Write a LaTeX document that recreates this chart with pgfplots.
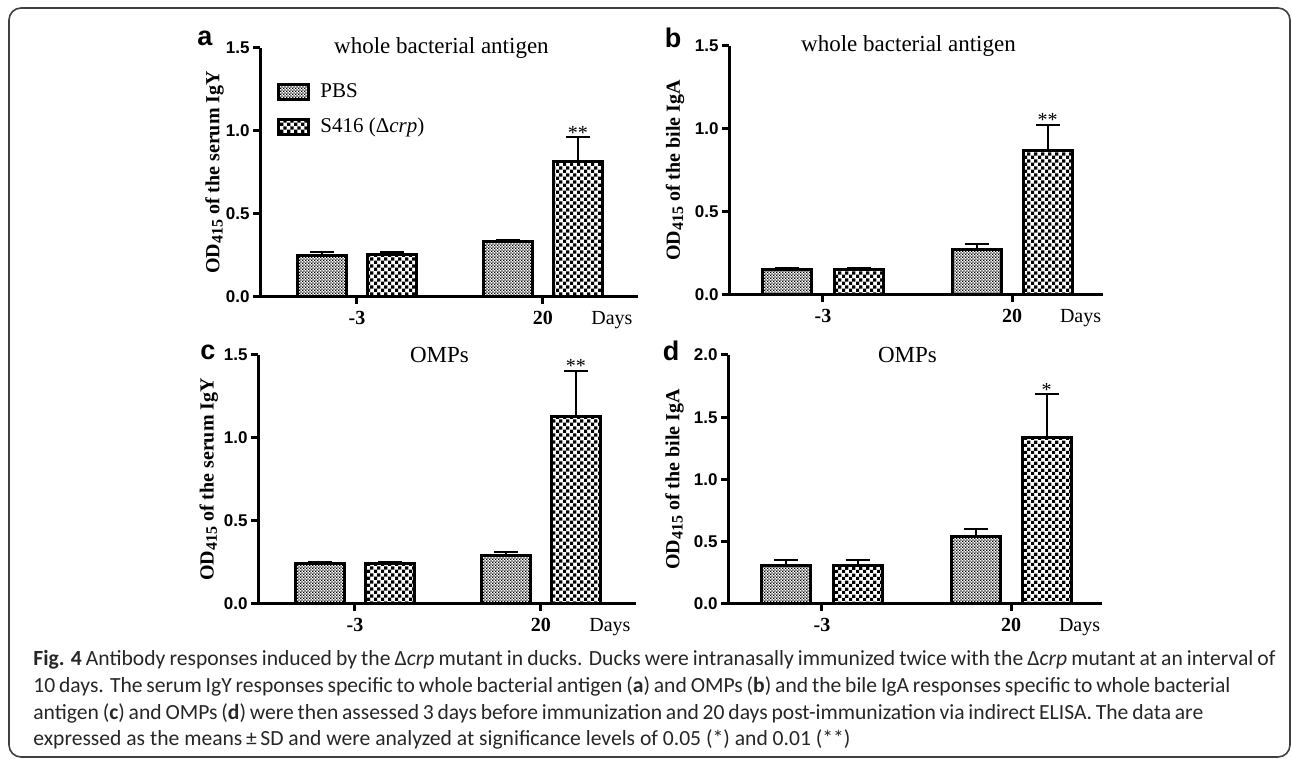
\documentclass[border=0pt]{standalone}
\usepackage{fontspec}
\setmainfont{Liberation Serif}
\newfontfamily\arial{Liberation Sans}
\newfontfamily\capfont{Carlito}
\usepackage{pgfplots}
\pgfplotsset{compat=1.18}
\usetikzlibrary{patterns.meta}

\tikzdeclarepattern{
  name=finecheck, type=uncolored,
  bounding box={(0pt,0pt) and (1.4pt,1.4pt)},
  tile size={(1.4pt,1.4pt)},
  code={\fill (0pt,0pt) rectangle (0.7pt,0.7pt); \fill (0.7pt,0.7pt) rectangle (1.4pt,1.4pt);}
}
\tikzdeclarepattern{
  name=coarsecheck, type=uncolored,
  bounding box={(0pt,0pt) and (3.6pt,3.6pt)},
  tile size={(3.6pt,3.6pt)},
  code={\fill (0pt,0pt) rectangle (1.8pt,1.8pt); \fill (1.8pt,1.8pt) rectangle (3.6pt,3.6pt);}
}

\pgfplotsset{
  panel/.style={
    scale only axis, height=124.5pt, anchor=south west, clip=false,
    axis lines=left, axis line style={-, line width=1.5pt, black},
    xtick={0,1}, xticklabels={-3,20},
    tick style={line width=1.5pt, black}, major tick length=3.5pt, tick align=outside,
    xticklabel style={font=\fontsize{10}{12}\selectfont\bfseries},
    yticklabel style={font=\arial\bfseries\fontsize{8.5}{10}\selectfont, inner sep=1.5pt,
      /pgf/number format/.cd, fixed, fixed zerofill, precision=1, assume math mode=true},
    ylabel style={font=\bfseries\fontsize{10}{12}\selectfont, anchor=center},
    ymin=0,
    legend image code/.code={\draw[##1] (0pt,-3.75pt) rectangle (15pt,3.75pt);},
  },
  pbs/.style={ybar, bar width=24.5pt, bar shift=0pt, draw=black, line width=1.5pt,
    pattern={finecheck}, pattern color=black,
    error bars/.cd, y dir=plus, y explicit, error mark=|,
    error bar style={line width=1pt, black, solid},
    error mark options={line width=1pt, mark size=6pt, black}},
  s416/.style={ybar, bar width=24.5pt, bar shift=0pt, draw=black, line width=1.5pt,
    pattern={coarsecheck}, pattern color=black,
    error bars/.cd, y dir=plus, y explicit, error mark=|,
    error bar style={line width=1pt, black, solid},
    error mark options={line width=1pt, mark size=6pt, black}},
}

% x: group -3 at 0, group 20 at 1; PBS bars sit 0.188 left, S416 bars 0.188 right
% panel a: whole bacterial antigen, serum IgY
\pgfplotstableread{
x y e
-0.188 0.252 0.016
0.812 0.332 0.014
}\aPBS
\pgfplotstableread{
x y e
0.188 0.256 0.016
1.188 0.819 0.143
}\aSF
% panel b: whole bacterial antigen, bile IgA
\pgfplotstableread{
x y e
-0.188 0.151 0.014
0.812 0.272 0.034
}\bPBS
\pgfplotstableread{
x y e
0.188 0.151 0.014
1.188 0.872 0.155
}\bSF
% panel c: OMPs, serum IgY
\pgfplotstableread{
x y e
-0.188 0.241 0.010
0.812 0.291 0.023
}\cPBS
\pgfplotstableread{
x y e
0.188 0.241 0.010
1.188 1.132 0.273
}\cSF
% panel d: OMPs, bile IgA
\pgfplotstableread{
x y e
-0.188 0.313 0.038
0.812 0.545 0.057
}\dPBS
\pgfplotstableread{
x y e
0.188 0.313 0.038
1.188 1.336 0.348
}\dSF

\begin{document}
\begin{tikzpicture}
\useasboundingbox (0pt,0pt) rectangle (646pt,379.5pt);
\draw[rounded corners=6pt, line width=0.8pt, black!75] (4.5pt,1pt) rectangle (645pt,375.5pt);

% ---- a ----
\begin{axis}[panel, at={(130pt,231pt)}, width=189pt, xmin=-0.5215, xmax=1.511,
  ymax=1.5, ytick={0,0.5,1,1.5},
  ylabel={OD\raisebox{-0.35ex}{\fontsize{8}{8}\selectfont 415} of the serum IgY},
  ylabel style={at={(axis description cs:-0.12,0.5)}},
  legend style={at={(axis description cs:0.045,0.875)}, anchor=north west, draw=none, fill=none,
    inner sep=0pt, row sep=5pt, font=\fontsize{10.5}{12}\selectfont, nodes={inner sep=2pt}},
  legend cell align=left]
\addplot[pbs] table[x=x, y=y, y error=e] {\aPBS};
\addplot[s416] table[x=x, y=y, y error=e] {\aSF};
\addlegendentry{\hspace{3pt}PBS}
\addlegendentry{\hspace{3pt}S416 (Δ\textit{crp})}
\node[font=\fontsize{11.5}{13}\selectfont] at (axis description cs:0.48,1) {whole bacterial antigen};
\node[font=\fontsize{10}{12}\selectfont, anchor=base] at (axis cs:1.188,0.962) [yshift=-1pt] {**};
\node[font=\fontsize{10}{12}\selectfont, anchor=north, inner sep=0.333em] at (axis description cs:0.931,0) [yshift=-3.5pt] {Days};
\end{axis}

% ---- b ----
\begin{axis}[panel, at={(364.5pt,232pt)}, width=187pt, xmin=-0.497, xmax=1.481,
  ymax=1.5, ytick={0,0.5,1,1.5},
  ylabel={OD\raisebox{-0.35ex}{\fontsize{8}{8}\selectfont 415} of the bile IgA},
  ylabel style={at={(axis description cs:-0.144,0.5)}}]
\addplot[pbs] table[x=x, y=y, y error=e] {\bPBS};
\addplot[s416] table[x=x, y=y, y error=e] {\bSF};
\node[font=\fontsize{11.5}{13}\selectfont] at (axis description cs:0.48,1) {whole bacterial antigen};
\node[font=\fontsize{10}{12}\selectfont, anchor=base] at (axis cs:1.188,1.027) [yshift=-1pt] {**};
\node[font=\fontsize{10}{12}\selectfont, anchor=north, inner sep=0.333em] at (axis description cs:0.94,0) [yshift=-3.5pt] {Days};
\end{axis}

% ---- c ----
\begin{axis}[panel, at={(129pt,77.5pt)}, width=189pt, xmin=-0.5215, xmax=1.511,
  ymax=1.5, ytick={0,0.5,1,1.5},
  ylabel={OD\raisebox{-0.35ex}{\fontsize{8}{8}\selectfont 415} of the serum IgY},
  ylabel style={at={(axis description cs:-0.13,0.5)}}]
\addplot[pbs] table[x=x, y=y, y error=e] {\cPBS};
\addplot[s416] table[x=x, y=y, y error=e] {\cSF};
\node[font=\fontsize{11.5}{13}\selectfont] at (axis description cs:0.48,1) {OMPs};
\node[font=\fontsize{10}{12}\selectfont, anchor=base] at (axis cs:1.188,1.405) [yshift=-1pt] {**};
\node[font=\fontsize{10}{12}\selectfont, anchor=north, inner sep=0.333em] at (axis description cs:0.931,0) [yshift=-3.5pt] {Days};
\end{axis}

% ---- d ----
\begin{axis}[panel, at={(364pt,77.5pt)}, width=187pt, xmin=-0.497, xmax=1.481,
  ymax=2.0, ytick={0,0.5,1,1.5,2},
  ylabel={OD\raisebox{-0.35ex}{\fontsize{8}{8}\selectfont 415} of the bile IgA},
  ylabel style={at={(axis description cs:-0.143,0.5)}}]
\addplot[pbs] table[x=x, y=y, y error=e] {\dPBS};
\addplot[s416] table[x=x, y=y, y error=e] {\dSF};
\node[font=\fontsize{11.5}{13}\selectfont] at (axis description cs:0.48,1) {OMPs};
\node[font=\fontsize{10}{12}\selectfont, anchor=base] at (axis cs:1.188,1.684) [yshift=-1pt] {*};
\node[font=\fontsize{10}{12}\selectfont, anchor=north, inner sep=0.333em] at (axis description cs:0.94,0) [yshift=-3.5pt] {Days};
\end{axis}

% panel letters
\begin{scope}[every node/.style={font=\arial\bfseries\fontsize{13.5}{15}\selectfont}]
\node at (102.5pt,360.5pt) {a};
\node at (336.5pt,360.5pt) {b};
\node at (104pt,203.5pt) {c};
\node at (335.5pt,204pt) {d};
\end{scope}

% caption
\begin{scope}[every node/.style={anchor=base west, inner sep=0pt, text=black!85,
    font=\capfont\fontsize{10.8}{13}\selectfont}]
\node at (16.5pt,46.5pt) {\makebox[621pt][s]{\textbf{Fig. 4} Antibody responses induced by the Δ\textit{crp} mutant in ducks. Ducks were intranasally immunized twice with the Δ\textit{crp} mutant at an interval of}};
\node at (16.5pt,33pt) {\makebox[598.5pt][s]{10 days. The serum IgY responses specific to whole bacterial antigen (\textbf{a}) and OMPs (\textbf{b}) and the bile IgA responses specific to whole bacterial}};
\node at (16.5pt,19.5pt) {\makebox[585pt][s]{antigen (\textbf{c}) and OMPs (\textbf{d}) were then assessed 3 days before immunization and 20 days post-immunization via indirect ELISA. The data are}};
\node at (16.5pt,6.5pt) {expressed as the means\,±\,SD and were analyzed at significance levels of 0.05 (*) and 0.01 (**)};
\end{scope}
\end{tikzpicture}
\end{document}
